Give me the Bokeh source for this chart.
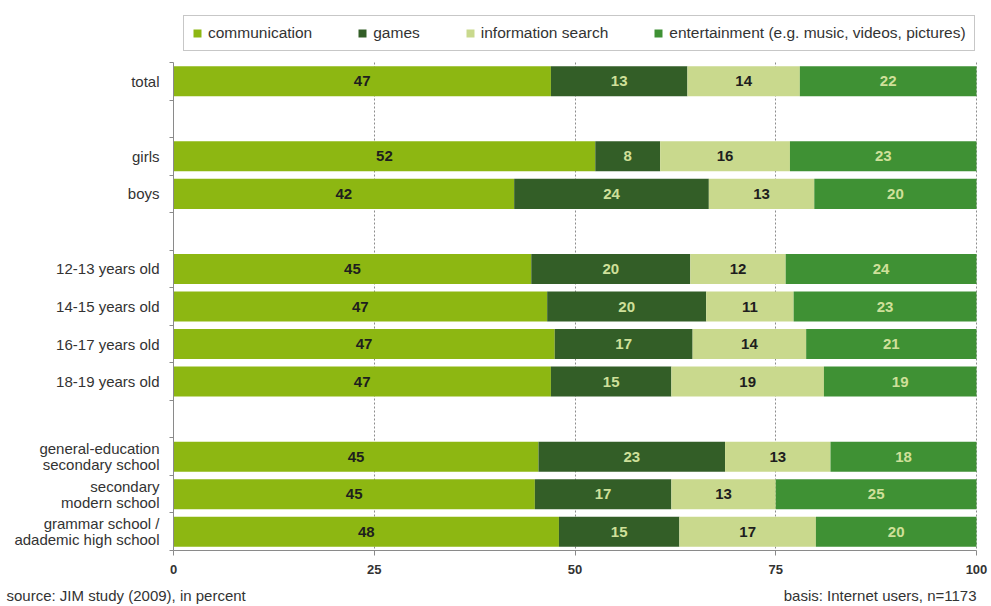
from bokeh.plotting import figure
from bokeh.models import Range1d, FixedTicker, ColumnDataSource
from bokeh.core.properties import value
from bokeh.embed import file_html
from bokeh.resources import INLINE

# ---- data ----
categories = ["total", "girls", "boys",
              "12-13 years old", "14-15 years old", "16-17 years old", "18-19 years old",
              "general-education\nsecondary school", "secondary\nmodern school",
              "grammar school /\nadademic high school"]
group = [0, 1, 1, 2, 2, 2, 2, 3, 3, 3]

communication = [47, 52, 42, 45, 47, 47, 47, 45, 45, 48]
games = [17, 8, 24, 20, 20, 17, 15, 23, 17, 15]            # bar lengths as drawn
games_printed = [13, 8, 24, 20, 20, 17, 15, 23, 17, 15]    # numbers printed on the bars
information = [14, 16, 13, 12, 11, 14, 19, 13, 13, 17]
entertainment = [22, 23, 20, 24, 23, 21, 19, 18, 25, 20]

series_names = ["communication", "games", "information search",
                "entertainment (e.g. music, videos, pictures)"]
colors = ["#8db712", "#335e27", "#c9d98d", "#3f9134"]
label_colors = ["#1e1e1e", "#cfe09a", "#1e1e1e", "#cfe09a"]
x_ticks = [0, 25, 50, 75, 100]

source_note = "source: JIM study (2009),  in percent"
basis_note = "basis: Internet users, n=1173"

FONT = "Liberation Sans"
TXT = "#333333"
AXIS = "#8a8a8a"

# ---- layout ----
W, H = 991, 606
PL, PR, PT, PB = 173, 15, 62, 56          # plot-area margins in px
slots = [i + g for i, g in enumerate(group)]
n_slots = slots[-1] + 1
y_top, y_bot = -0.5, n_slots - 0.5
px_x = (W - PL - PR) / 100.0
px_y = (H - PT - PB) / (y_bot - y_top)

p = figure(width=W, height=H, output_backend="svg", toolbar_location=None,
           x_range=Range1d(-PL / px_x, 100 + PR / px_x),
           y_range=Range1d(y_bot + PB / px_y, y_top - PT / px_y),
           min_border=0)
p.outline_line_color = None

# dotted vertical grid lines, only across the bar area
g = p.xgrid[0]
if "cross_bounds" in g.properties():
    g.ticker = FixedTicker(ticks=x_ticks[1:])
    g.cross_bounds = (y_top, y_bot)
    g.grid_line_color = "#8c8c8c"
    g.grid_line_dash = "2 2"
    g.grid_line_width = 1
else:
    g.grid_line_color = None
    p.segment(x0=x_ticks[1:], x1=x_ticks[1:], y0=[y_top] * 4, y1=[y_bot] * 4,
              line_color="#8c8c8c", line_dash="2 2", line_width=1, level="underlay")
p.ygrid.grid_line_color = None

# stacked, normalised to 100 %
series = [communication, games, information, entertainment]
printed = [communication, games_printed, information, entertainment]
totals = [sum(v) for v in zip(*series)]
left = [0.0] * len(categories)
for k, (vals, name) in enumerate(zip(series, series_names)):
    widths = [v / t * 100 for v, t in zip(vals, totals)]
    right = [l + w for l, w in zip(left, widths)]
    src = ColumnDataSource(dict(y=slots, left=left, right=right,
                                mid=[(a + b) / 2 for a, b in zip(left, right)],
                                txt=[str(v) for v in printed[k]]))
    p.hbar(y="y", left="left", right="right", height=0.8, source=src,
           fill_color=colors[k], line_color=None, legend_label=name)
    p.text(x="mid", y="y", text="txt", source=src, text_align="center",
           text_baseline="middle", text_font=value(FONT), text_font_style="bold",
           text_font_size="15px", text_color=label_colors[k])
    left = right

# x axis (drawn at the bottom edge of the bar area)
xa = p.xaxis[0]
xa.fixed_location = y_bot
xa.bounds = (0, 100)
xa.ticker = FixedTicker(ticks=x_ticks)
xa.axis_line_color = AXIS
xa.major_tick_line_color = AXIS
xa.major_tick_out = 5
xa.major_tick_in = 0
xa.minor_tick_line_color = None
xa.major_label_text_font = FONT
xa.major_label_text_font_style = "bold"
xa.major_label_text_font_size = "13px"
xa.major_label_text_color = TXT
xa.major_label_standoff = 9

# y axis: small ticks at row boundaries
ya = p.yaxis[0]
ya.fixed_location = 0
ya.bounds = (y_top, y_bot)
ya.ticker = FixedTicker(ticks=[], minor_ticks=[s - 0.5 for s in range(n_slots + 1)])
ya.axis_line_color = AXIS
ya.major_tick_line_color = None
ya.minor_tick_line_color = AXIS
ya.minor_tick_out = 4
ya.minor_tick_in = 0

# row labels (right aligned, two-line ones stacked)
lab_x, lab_y, lab_t, lab_off = [], [], [], []
for cat, s in zip(categories, slots):
    lines = cat.split("\n")
    offs = [0] if len(lines) == 1 else [-8, 8]
    for line, off in zip(lines, offs):
        lab_x.append(0)
        lab_y.append(s)
        lab_t.append(line)
        lab_off.append(off)
p.text(x="x", y="y", text="t", y_offset="off",
       source=ColumnDataSource(dict(x=lab_x, y=lab_y, t=lab_t, off=lab_off)),
       x_offset=-14, text_align="right", text_baseline="middle",
       text_font=value(FONT), text_font_size="15px", text_color=TXT)

# legend above the bar area
lg = p.legend[0]
lg.orientation = "horizontal"
lg.location = (183, H - 51)
lg.margin = 0
lg.glyph_width = 10
lg.glyph_height = 10
lg.label_standoff = 6
lg.spacing = 45
lg.padding = 8
lg.label_text_font = FONT
lg.label_text_font_size = "15.5px"
lg.label_text_color = TXT
lg.border_line_color = "#8f8f8f"
lg.border_line_width = 1
lg.background_fill_color = "white"
lg.background_fill_alpha = 1

# footer notes
p.text(x=[p.x_range.start], y=[y_bot], text=[source_note], x_offset=6, y_offset=45,
       text_align="left", text_baseline="middle", text_font=value(FONT),
       text_font_size="15px", text_color=TXT)
p.text(x=[100], y=[y_bot], text=[basis_note], x_offset=0, y_offset=45,
       text_align="right", text_baseline="middle", text_font=value(FONT),
       text_font_size="15px", text_color=TXT)

open("out.html", "w").write(file_html(p, INLINE))
